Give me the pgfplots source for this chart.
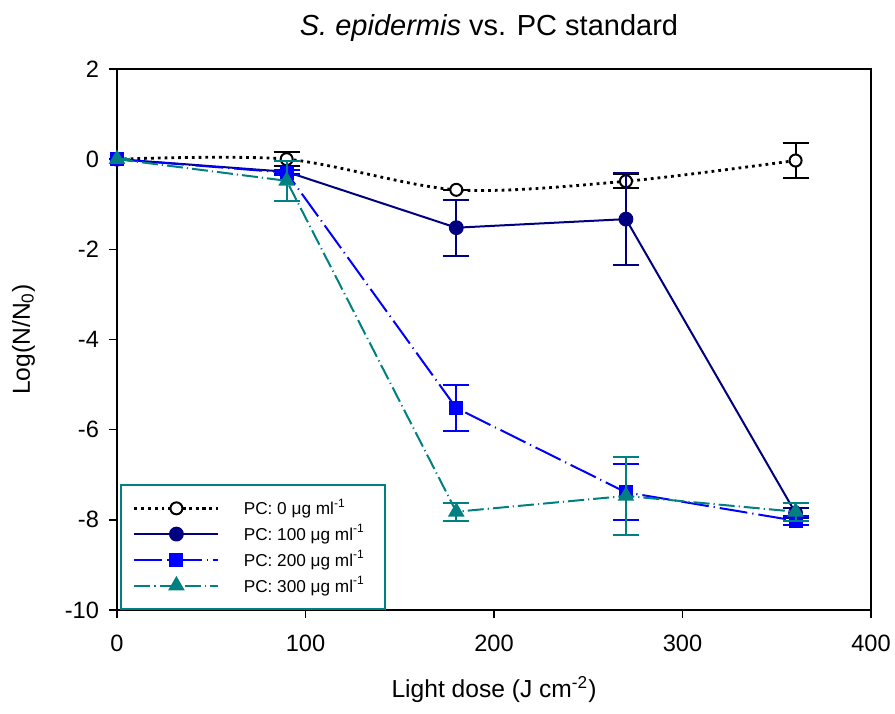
\documentclass[border=0pt]{standalone}
\usepackage{fontspec}
\setmainfont{Liberation Sans}
\usepackage{pgfplots}
\pgfplotsset{compat=1.18}
\definecolor{pcnavy}{RGB}{0,0,128}
\definecolor{pcblue}{RGB}{0,0,255}
\definecolor{pcteal}{RGB}{0,128,128}

\begin{document}
\begin{tikzpicture}
\useasboundingbox (-58.5pt,-51.5pt) rectangle (389pt,305pt);
\begin{axis}[
  at={(0,0)}, anchor=south west,
  scale only axis, clip mode=individual,
  width=377pt, height=270.5pt,
  xmin=0, xmax=400, ymin=-10, ymax=2,
  xtick={0,100,...,400}, ytick={-10,-8,...,2},
  axis line style={line width=0.8pt},
  tick style={line width=0.8pt, black},
  tick align=outside, major tick length=4pt,
  xtick pos=bottom, ytick pos=left,
  /pgf/number format/assume math mode=true,
  tick label style={font=\fontsize{11.8}{13}\selectfont},
  xticklabel style={yshift=-5pt},
  yticklabel style={xshift=-1.5pt},
  label style={font=\fontsize{12.3}{14}\selectfont},
  xlabel={Light dose (J cm\textsuperscript{-2})},
  ylabel={Log(N/N\textsubscript{0})},
  xlabel style={yshift=-5.5pt},
  ylabel style={yshift=8pt},
  legend style={at={(rel axis cs:0.004,0)}, anchor=south west,
    draw=pcteal, line width=1pt, font=\fontsize{8.6}{10}\selectfont,
    inner xsep=6pt, inner ysep=5pt, row sep=-0.6pt,
    nodes={inner xsep=4pt}},
  legend cell align=left,
  legend image code/.code={%
    \draw[mark repeat=2,mark phase=2] plot coordinates {(0pt,0pt) (21pt,0pt) (42pt,0pt)};
    \path (50pt,0pt);},
  error bars/y dir=both, error bars/y explicit,
]
\addplot[black, line width=1.4pt, dotted, smooth, tension=0.5,
  mark=*, mark size=3pt, mark options={solid, fill=white, draw=black, line width=1pt},
  error bars/error bar style={solid, line width=1pt},
  error bars/error mark options={rotate=90, mark size=6.5pt, solid, line width=1pt}]
  coordinates {(0,0) +- (0,0) (90,0) +- (0,0.15) (180,-0.68) +- (0,0)
               (270,-0.49) +- (0,0.15) (360,-0.03) +- (0,0.38)};
\addlegendentry{PC: 0 μg ml\textsuperscript{-1}}
\addplot[pcnavy, line width=1pt,
  mark=*, mark size=3.2pt, mark options={solid},
  error bars/error bar style={solid, line width=1pt},
  error bars/error mark options={rotate=90, mark size=6.5pt, solid, line width=1pt}]
  coordinates {(0,0) +- (0,0) (90,-0.28) +- (0,0.05) (180,-1.52) +- (0,0.62)
               (270,-1.33) +- (0,1.02) (360,-7.85) +- (0,0.12)};
\addlegendentry{PC: 100 μg ml\textsuperscript{-1}}
\addplot[pcblue, line width=1pt, dash pattern=on 14pt off 2.5pt on 0.6pt off 2.5pt,
  mark=square*, mark size=3pt, mark options={solid},
  error bars/error bar style={solid, line width=1pt},
  error bars/error mark options={rotate=90, mark size=6.5pt, solid, line width=1pt}]
  coordinates {(0,0) +- (0,0) (90,-0.3) +- (0,0.05) (180,-5.52) +- (0,0.52)
               (270,-7.39) +- (0,0.62) (360,-8.02) +- (0,0.1)};
\addlegendentry{PC: 200 μg ml\textsuperscript{-1}}
\addplot[pcteal, line width=1pt, dash pattern=on 8pt off 2pt on 0.6pt off 2pt,
  mark=triangle*, mark size=3.8pt, mark options={solid},
  error bars/error bar style={solid, line width=1pt},
  error bars/error mark options={rotate=90, mark size=6.5pt, solid, line width=1pt}]
  coordinates {(0,0) +- (0,0) (90,-0.48) +- (0,0.45) (180,-7.82) +- (0,0.2)
               (270,-7.47) +- (0,0.87) (360,-7.82) +- (0,0.2)};
\addlegendentry{PC: 300 μg ml\textsuperscript{-1}}
\end{axis}
\node[font=\fontsize{14.5}{16}\selectfont] at (186pt,291pt)
  {\textit{S. epidermis} vs. PC standard};
\end{tikzpicture}
\end{document}
